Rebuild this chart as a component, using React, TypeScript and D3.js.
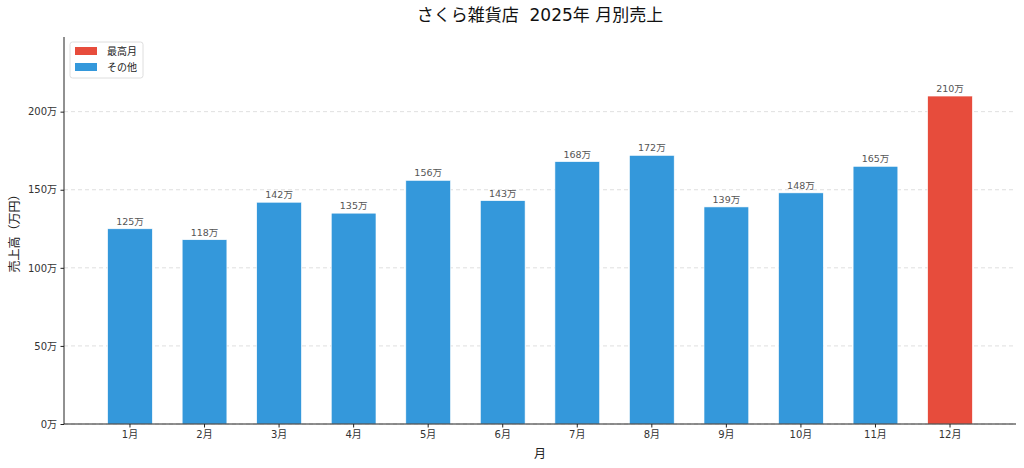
import { useEffect, useRef } from "react";
import * as d3 from "d3";

const months = ["1月", "2月", "3月", "4月", "5月", "6月", "7月", "8月", "9月", "10月", "11月", "12月"];
const sales = [125, 118, 142, 135, 156, 143, 168, 172, 139, 148, 165, 210];
const yTicks = [0, 50, 100, 150, 200];
const legendItems = [
  { label: "最高月", color: "#e74c3c" },
  { label: "その他", color: "#3498db" },
];

const FONT = "'DejaVu Sans', 'Noto Sans CJK JP', sans-serif";

export default function App() {
  const svgRef = useRef<SVGSVGElement | null>(null);
  const width = 1024;
  const height = 468;

  useEffect(() => {
    document.body.style.margin = "0";
    const svg = d3.select(svgRef.current);
    svg.selectAll("*").remove();

    const margin = { top: 37, right: 8, bottom: 44, left: 64 };
    const innerBottom = height - margin.bottom;
    const maxVal = d3.max(sales) as number;

    const x = d3
      .scaleBand<string>()
      .domain(months)
      .range([margin.left, width - margin.right])
      .paddingInner(0.4)
      .paddingOuter(0.585);

    const y = d3
      .scaleLinear()
      .domain([0, maxVal * 1.18])
      .range([innerBottom, margin.top]);

    // grid
    svg
      .append("g")
      .selectAll("line")
      .data(yTicks)
      .join("line")
      .attr("x1", margin.left)
      .attr("x2", width - margin.right)
      .attr("y1", (d) => y(d))
      .attr("y2", (d) => y(d))
      .attr("stroke", "#b0b0b0")
      .attr("stroke-opacity", 0.5)
      .attr("stroke-width", 0.8)
      .attr("stroke-dasharray", "4,3");

    // bars
    svg
      .append("g")
      .selectAll("rect")
      .data(sales)
      .join("rect")
      .attr("x", (_, i) => x(months[i]) as number)
      .attr("y", (d) => y(d))
      .attr("width", x.bandwidth())
      .attr("height", (d) => innerBottom - y(d))
      .attr("fill", (d) => (d === maxVal ? legendItems[0].color : legendItems[1].color))
      .attr("stroke", "white")
      .attr("stroke-width", 0.6);

    // value labels
    svg
      .append("g")
      .selectAll("text")
      .data(sales)
      .join("text")
      .attr("x", (_, i) => (x(months[i]) as number) + x.bandwidth() / 2)
      .attr("y", (d) => y(d) - 4)
      .attr("text-anchor", "middle")
      .attr("font-family", FONT)
      .attr("font-size", 9.5)
      .attr("fill", "#555")
      .text((d) => `${d}万`);

    // axes
    const yAxis = svg
      .append("g")
      .attr("transform", `translate(${margin.left},0)`)
      .call(
        d3
          .axisLeft(y)
          .tickValues(yTicks)
          .tickSize(3.5)
          .tickPadding(3.5)
          .tickFormat((d) => `${d}万`)
      );
    yAxis.select(".domain").attr("stroke", "#222").attr("d", `M0,${margin.top}V${innerBottom}`);

    const xAxis = svg
      .append("g")
      .attr("transform", `translate(0,${innerBottom})`)
      .call(d3.axisBottom(x).tickSize(3.5).tickPadding(3.5));
    xAxis.select(".domain").attr("stroke", "#222").attr("d", `M${margin.left},0H${width - margin.right}`);

    [yAxis, xAxis].forEach((g) => {
      g.selectAll(".tick line").attr("stroke", "#222");
      g.selectAll(".tick text").attr("font-family", FONT).attr("font-size", 10).attr("fill", "#333");
    });

    // axis titles
    svg
      .append("text")
      .attr("x", (margin.left + width - margin.right) / 2)
      .attr("y", 458)
      .attr("text-anchor", "middle")
      .attr("font-family", FONT)
      .attr("font-size", 12)
      .attr("fill", "#222")
      .text("月");

    svg
      .append("text")
      .attr("transform", `translate(19,${(margin.top + innerBottom) / 2}) rotate(-90)`)
      .attr("text-anchor", "middle")
      .attr("font-family", FONT)
      .attr("font-size", 12)
      .attr("fill", "#222")
      .text("売上高（万円）");

    // title
    svg
      .append("text")
      .attr("x", (margin.left + width - margin.right) / 2)
      .attr("y", 21)
      .attr("text-anchor", "middle")
      .attr("font-family", FONT)
      .attr("font-size", 17)
      .attr("fill", "#111")
      .attr("xml:space", "preserve")
      .text("さくら雑貨店\u00a0\u00a02025年 月別売上");

    // legend
    const legend = svg.append("g").attr("transform", `translate(${margin.left + 6},${margin.top + 5})`);
    legend
      .append("rect")
      .attr("width", 73)
      .attr("height", 36)
      .attr("rx", 2.5)
      .attr("fill", "white")
      .attr("fill-opacity", 0.8)
      .attr("stroke", "#d5d5d5")
      .attr("stroke-width", 0.8);
    const items = legend
      .selectAll("g.item")
      .data(legendItems)
      .join("g")
      .attr("class", "item")
      .attr("transform", (_, i) => `translate(5,${5 + i * 16})`);
    items
      .append("rect")
      .attr("width", 22)
      .attr("height", 8)
      .attr("fill", (d) => d.color);
    items
      .append("text")
      .attr("x", 32)
      .attr("y", 8)
      .attr("font-family", FONT)
      .attr("font-size", 10)
      .attr("fill", "#222")
      .text((d) => d.label);
  }, []);

  return <svg ref={svgRef} width={width} height={height} style={{ display: "block", background: "white" }}></svg>;
}
